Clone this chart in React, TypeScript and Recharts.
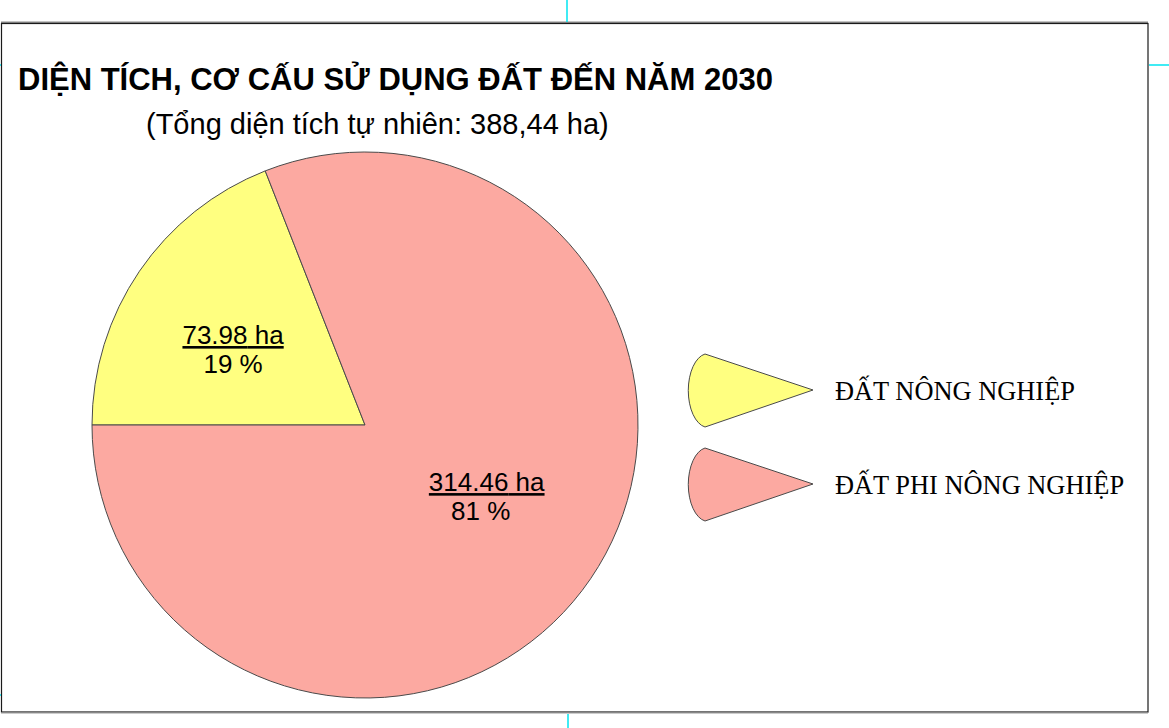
import { Cell, Legend, Pie, PieChart } from "recharts"

const categories = ["ĐẤT NÔNG NGHIỆP", "ĐẤT PHI NÔNG NGHIỆP"]
const areas = [73.98, 314.46]
const percents = [19, 81]
const colors = ["#FFFF80", "#FCA9A1"]

const title = "DIỆN TÍCH, CƠ CẤU SỬ DỤNG ĐẤT ĐẾN NĂM 2030"
const subtitle = "(Tổng diện tích tự nhiên: 388,44 ha)"

const data = categories.map((name, i) => ({
  name,
  value: areas[i],
  percent: percents[i],
  color: colors[i],
}))

// where each label block sits, relative to the slice's mid angle
const labelShift = [
  { angle: 5, radius: 0.554 },
  { angle: 3.3, radius: 0.52 },
]

const RAD = Math.PI / 180

const renderLabel = (props: any) => {
  const { cx, cy, midAngle, outerRadius, index } = props
  const shift = labelShift[index]
  const a = (midAngle + shift.angle) * RAD
  const x = cx + outerRadius * shift.radius * Math.cos(a)
  const y = cy - outerRadius * shift.radius * Math.sin(a)
  const d = data[index]
  return (
    <g>
      <text
        x={x}
        y={y - 7}
        textAnchor="middle"
        fontFamily="'Liberation Sans', Arial, sans-serif"
        fontSize={26}
        fill="#000"
        style={{ textDecoration: "underline" }}
      >
        {d.value.toFixed(2)} ha
      </text>
      <text
        x={x - (index === 1 ? 6 : 0)}
        y={y + 22}
        textAnchor="middle"
        fontFamily="'Liberation Sans', Arial, sans-serif"
        fontSize={26}
        fill="#000"
      >
        {d.percent} %
      </text>
    </g>
  )
}

const renderLegend = (props: any) => {
  const { payload } = props
  return (
    <div>
      {payload.map((entry: any, i: number) => (
        <svg key={`leg-${i}`} width={470} height={94} style={{ display: "block" }}>
          <path
            d="M127 37 L19 1 A20 37 0 0 0 19 74 Z"
            fill={entry.color}
            stroke="#4a4a4a"
            strokeWidth={1}
          />
          <text
            x={149}
            y={47}
            fontFamily="'Liberation Serif', 'Times New Roman', serif"
            fontSize={26.4}
            fill="#000"
          >
            {entry.value}
          </text>
        </svg>
      ))}
    </div>
  )
}

export default function App() {
  return (
    <div style={{ position: "absolute", left: 0, top: 0, width: 1169, height: 728, background: "#fff" }}>
      <PieChart width={1169} height={728} margin={{ top: 0, right: 0, bottom: 0, left: 0 }}>
        {/* frame and crop marks */}
        <line x1={1} y1={22.5} x2={1148} y2={22.5} stroke="#8a8a8a" strokeWidth={2} />
        <rect x={1.5} y={23.5} width={1146.5} height={688.5} fill="none" stroke="#1a1a1a" strokeWidth={1.2} />
        <line x1={1} y1={713} x2={1148} y2={713} stroke="#9a9a9a" strokeWidth={1} />
        <line x1={567} y1={0} x2={567} y2={22} stroke="#00e5f0" strokeWidth={1.5} />
        <line x1={568} y1={714} x2={568} y2={728} stroke="#00e5f0" strokeWidth={1.5} />
        <line x1={1149} y1={65} x2={1169} y2={65} stroke="#00e5f0" strokeWidth={1.5} />
        <line x1={0} y1={65} x2={1} y2={65} stroke="#00e5f0" strokeWidth={1.5} />
        <line x1={0} y1={695} x2={1} y2={695} stroke="#00e5f0" strokeWidth={1.5} />

        <text
          x={18}
          y={90}
          fontFamily="'Liberation Sans', Arial, sans-serif"
          fontWeight="bold"
          fontSize={31}
          fill="#000"
        >
          {title}
        </text>
        <text
          x={146}
          y={134}
          fontFamily="'Liberation Sans', Arial, sans-serif"
          fontSize={29}
          fill="#000"
        >
          {subtitle}
        </text>

        <Pie
          data={data}
          dataKey="value"
          nameKey="name"
          cx={365}
          cy={425}
          outerRadius={273}
          startAngle={180}
          endAngle={-180}
          stroke="#4a4a4a"
          strokeWidth={1}
          label={renderLabel}
          labelLine={false}
          isAnimationActive={false}
        >
          {data.map((entry, index) => (
            <Cell key={`cell-${index}`} fill={entry.color} />
          ))}
        </Pie>
        <Legend
          content={renderLegend}
          layout="vertical"
          wrapperStyle={{ position: "absolute", left: 686, top: 353, width: 470, bottom: "auto", right: "auto" }}
        />
      </PieChart>
    </div>
  )
}
